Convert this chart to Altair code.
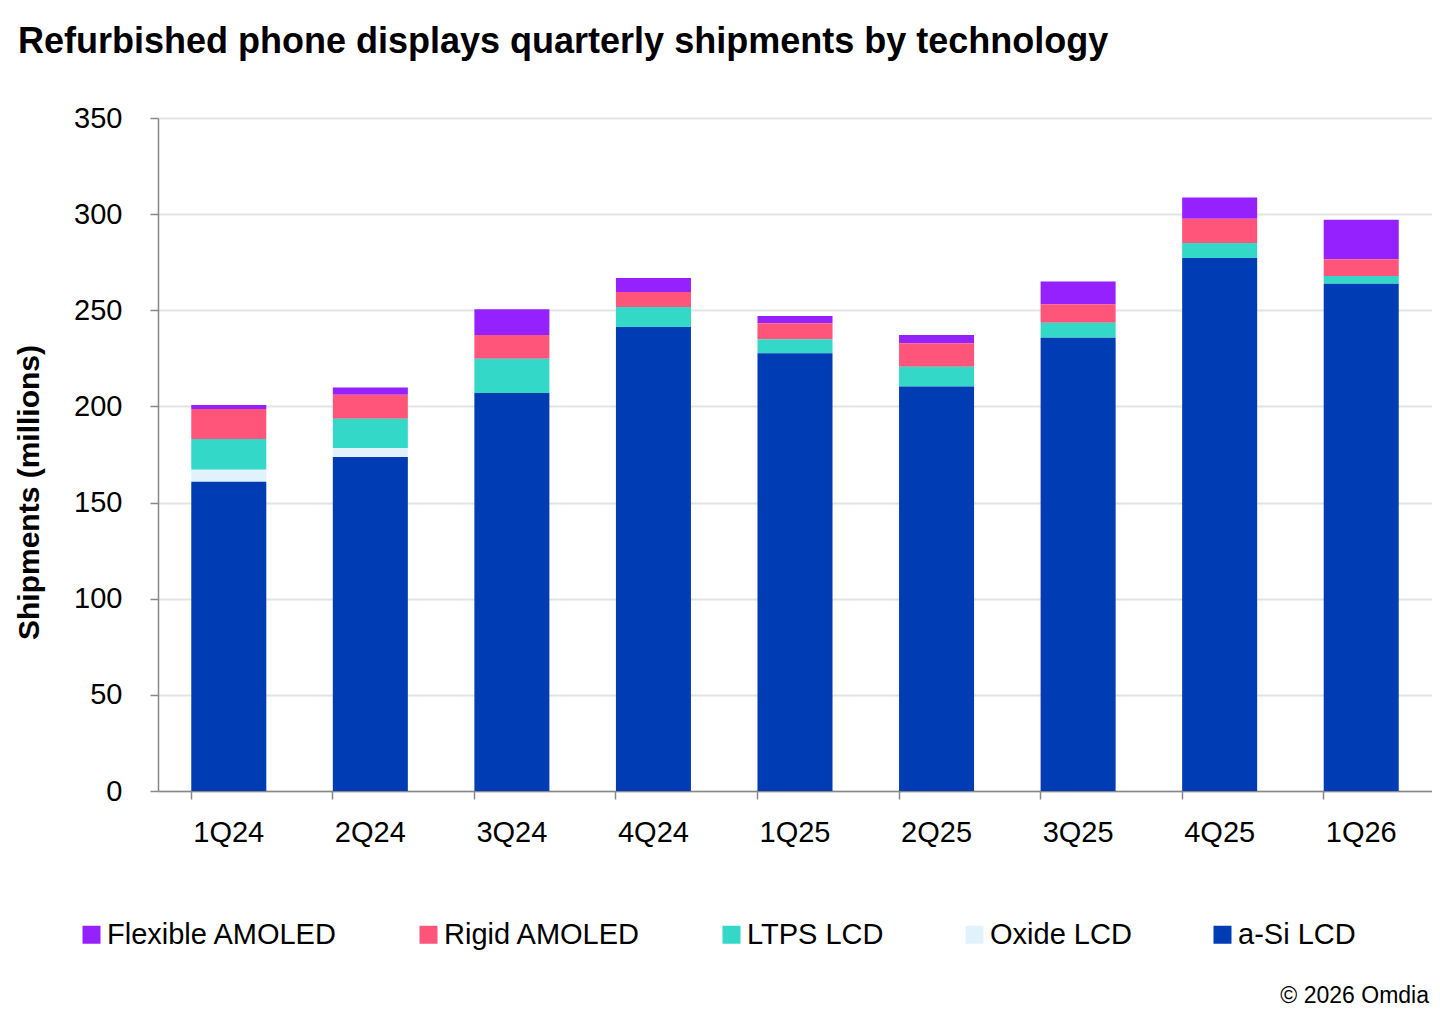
import altair as alt
import pandas as pd

quarters = ["1Q24", "2Q24", "3Q24", "4Q24", "1Q25", "2Q25", "3Q25", "4Q25", "1Q26"]
techs = ["Flexible AMOLED", "Rigid AMOLED", "LTPS LCD", "Oxide LCD", "a-Si LCD"]
colors = ["#9521FF", "#FF557A", "#33D8C8", "#E2F2FC", "#003DB5"]

asi = [160.8, 173.7, 207.0, 241.3, 227.6, 210.4, 235.7, 277.2, 263.8]
oxide = [6.3, 4.7, 0.0, 0.0, 0.0, 0.0, 0.0, 0.0, 0.0]
ltps = [15.9, 15.2, 17.8, 10.4, 7.4, 10.3, 7.8, 7.8, 4.0]
rigid = [15.6, 12.5, 12.3, 7.8, 8.2, 12.1, 9.6, 12.6, 8.7]
flexible = [2.1, 3.8, 13.4, 7.3, 3.8, 4.3, 11.9, 11.1, 20.6]

series = {
    "Flexible AMOLED": flexible,
    "Rigid AMOLED": rigid,
    "LTPS LCD": ltps,
    "Oxide LCD": oxide,
    "a-Si LCD": asi,
}

rows = []
for t, vals in series.items():
    for q, v in zip(quarters, vals):
        rows.append({"Quarter": q, "Technology": t, "Shipments": v,
                     "stack": len(techs) - techs.index(t)})
df = pd.DataFrame(rows)

FONT = "Liberation Sans"

bars = alt.Chart(df).mark_bar().encode(
    x=alt.X("Quarter:N", sort=quarters,
            scale=alt.Scale(paddingInner=0.47, paddingOuter=0.235),
            axis=alt.Axis(title=None, labelAngle=0, labelFontSize=29, labelFont=FONT,
                          labelColor="#000", labelPadding=19, tickSize=8,
                          tickColor="#888", domainColor="#888", domainWidth=1.5,
                          tickWidth=1.5, bandPosition=0, grid=False)),
    y=alt.Y("Shipments:Q",
            scale=alt.Scale(domain=[0, 350]),
            axis=alt.Axis(title="Shipments (millions)", values=[0, 50, 100, 150, 200, 250, 300, 350],
                          labelFontSize=29, labelFont=FONT, labelColor="#000",
                          labelPadding=28, tickSize=8, tickColor="#888", tickWidth=1.5,
                          domainColor="#888", domainWidth=1.5,
                          gridColor="#E3E3E3", gridWidth=2,
                          titleFontSize=30, titleFont=FONT, titleFontWeight="bold",
                          titleColor="#000", titleX=-114, titleY=374,
                          titleAlign="center", titleAngle=270)),
    color=alt.Color("Technology:N", sort=techs,
                    scale=alt.Scale(domain=techs, range=colors),
                    legend=alt.Legend(title=None, orient="none", direction="horizontal",
                                      legendX=-81, legendY=802,
                                      symbolType="square", symbolSize=324,
                                      symbolStrokeWidth=0,
                                      labelFontSize=29, labelFont=FONT, labelColor="#000",
                                      labelOffset=1, columnPadding=76,
                                      labelLimit=400)),
    order=alt.Order("stack:Q", sort="ascending"),
)

footer = alt.Chart(pd.DataFrame({"t": ["© 2026 Omdia"]})).mark_text(
    align="right", baseline="alphabetic", fontSize=23, font=FONT, color="#000"
).encode(text="t:N", x=alt.value(1271), y=alt.value(885))

chart = alt.layer(bars, footer).properties(
    width=1274, height=673,
    title=alt.TitleParams("Refurbished phone displays quarterly shipments by technology",
                          anchor="start", frame="group", dx=-140, fontSize=36,
                          font=FONT, fontWeight="bold", color="#000", offset=43),
    padding={"left": 150, "top": 110, "right": 0, "bottom": 221},
    autosize=alt.AutoSizeParams(type="none"),
).configure_view(stroke=None)

chart.save("out.html", embed_options={"renderer": "svg", "actions": False})
